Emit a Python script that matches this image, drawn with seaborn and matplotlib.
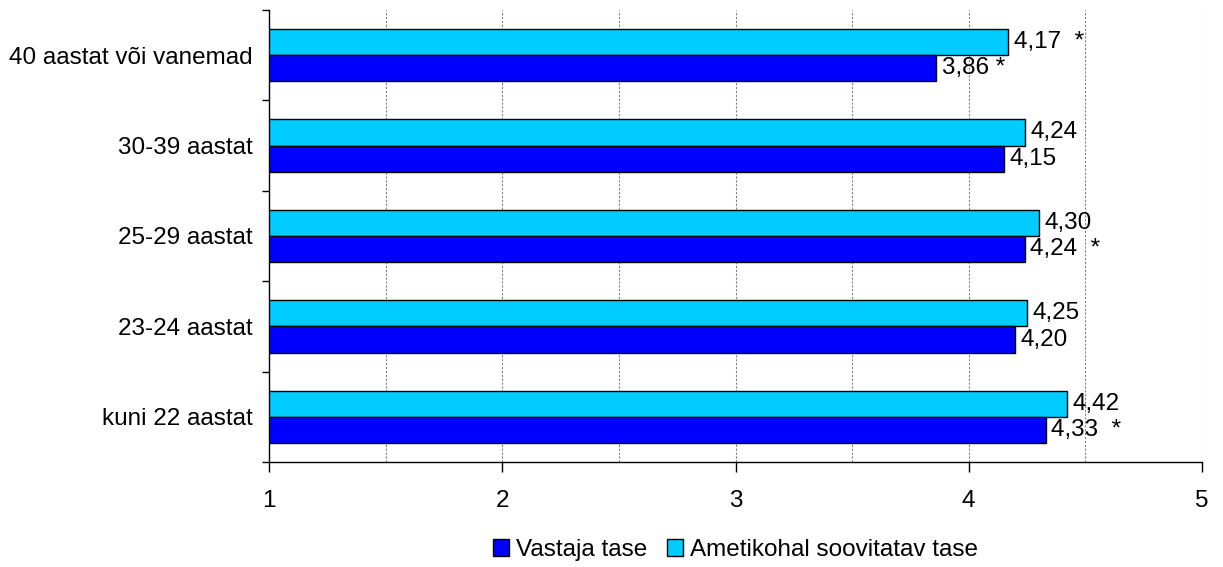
import numpy as np
import pandas as pd
import matplotlib
matplotlib.use("Agg")
import matplotlib.pyplot as plt
from matplotlib.patches import Patch
import seaborn as sns

categories = ["40 aastat või vanemad", "30-39 aastat", "25-29 aastat", "23-24 aastat", "kuni 22 aastat"]
soovitatav = [4.17, 4.24, 4.30, 4.25, 4.42]
vastaja = [3.86, 4.15, 4.24, 4.20, 4.33]
soovitatav_labels = ["4,17  *", "4,24", "4,30", "4,25", "4,42"]
vastaja_labels = ["3,86 *", "4,15", "4,24  *", "4,20", "4,33  *"]
series_names = ["Vastaja tase", "Ametikohal soovitatav tase"]
x_ticks = [1, 2, 3, 4, 5]

sns.set_theme(style="white")
plt.rcParams["font.family"] = ["Liberation Sans", "DejaVu Sans"]
plt.rcParams["text.color"] = "black"
plt.rcParams["xtick.color"] = "black"
plt.rcParams["ytick.color"] = "black"
plt.rcParams["axes.labelcolor"] = "black"

df = pd.DataFrame({
    "kategooria": categories * 2,
    "väärtus": soovitatav + vastaja,
    "seeria": [series_names[1]] * 5 + [series_names[0]] * 5,
})

colors = {series_names[0]: "#0000FF", series_names[1]: "#00CCFF"}

fig = plt.figure(figsize=(12.23, 5.67), dpi=100)
ax = fig.add_axes([269 / 1223, 1 - 462 / 567, (1202 - 269) / 1223, 452 / 567])

sns.barplot(data=df, y="kategooria", x="väärtus", hue="seeria",
            hue_order=[series_names[1], series_names[0]], order=categories,
            palette=colors, orient="h", width=0.58, edgecolor="black",
            linewidth=1.0, ax=ax, legend=False, saturation=1)

fs = 17.5
for cont, labs in zip(ax.containers, [soovitatav_labels, vastaja_labels]):
    ax.bar_label(cont, labels=labs, padding=4, fontsize=fs, color="black")

ax.set_xlim(1, 5)
ax.set_ylim(4.5, -0.5)
ax.set_xticks(x_ticks)
ax.set_xticklabels([str(t) for t in x_ticks], fontsize=fs)
ax.set_xticks(np.arange(1.5, 5.0, 1.0), minor=True)
ax.grid(True, axis="x", which="both", color="#808080", linestyle=(0, (2, 1.5)), linewidth=0.8)
ax.set_axisbelow(True)

ax.set_yticks(np.arange(-0.5, 5.0, 1.0))
ax.set_yticklabels([])
ax.set_yticks(range(len(categories)), minor=True)
ax.set_yticklabels(categories, minor=True, fontsize=fs)
ax.tick_params(axis="y", which="major", length=5, width=1, color="black", direction="out", left=True)
ax.tick_params(axis="y", which="minor", length=0, pad=12, labelcolor="black")
ax.tick_params(axis="x", which="major", length=7, width=1, color="black", direction="out", bottom=True, pad=13, labelcolor="black")
ax.tick_params(axis="x", which="minor", length=0)

ax.set_xlabel("")
ax.set_ylabel("")
for s in ["top", "right"]:
    ax.spines[s].set_visible(False)
for s in ["left", "bottom"]:
    ax.spines[s].set_color("black")
    ax.spines[s].set_linewidth(1.0)

handles = [Patch(facecolor=colors[n], edgecolor="black", linewidth=1.0, label=n) for n in series_names]
ax.legend(handles=handles, loc="center", bbox_to_anchor=(0.5, -0.195), ncol=2, frameon=False,
          fontsize=fs, handlelength=0.65, handleheight=0.65, handletextpad=0.3, columnspacing=0.8,
          labelcolor="black")

fig.savefig("out.png", dpi=100, facecolor="white")
